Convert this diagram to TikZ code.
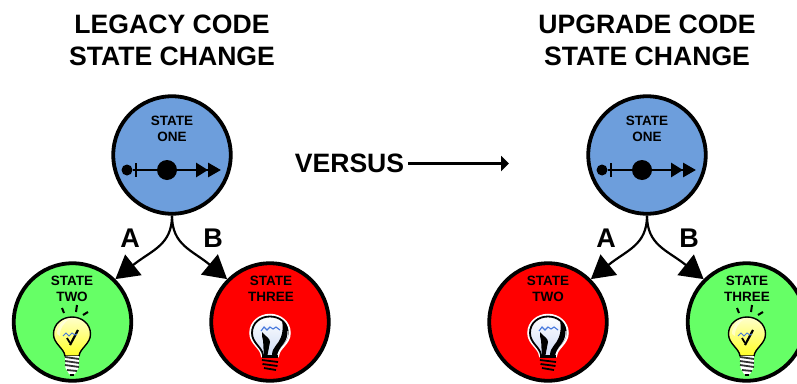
\documentclass[tikz,border=0pt]{standalone}
\usepackage{fontspec}
\setmainfont{Liberation Sans}
\usetikzlibrary{arrows.meta}
\definecolor{stateblue}{RGB}{109,158,220}
\definecolor{stategreen}{RGB}{102,255,102}
\definecolor{statered}{RGB}{255,0,0}
\definecolor{glassblue}{RGB}{70,120,220}
\tikzset{
    statecircle/.style={circle,draw=black,line width=3.8pt,minimum size=117.5pt,inner sep=0pt},
    statelabel/.style={align=center,font=\bfseries\fontsize{13.5}{16}\selectfont,inner sep=0pt},
    titlelabel/.style={align=center,font=\bfseries\fontsize{26.6}{31.5}\selectfont,inner sep=0pt},
    choicelabel/.style={font=\bfseries\fontsize{27}{30}\selectfont,inner sep=0pt},
    choicearrow/.style={line width=2.2pt,-{Triangle[length=23pt,width=26pt]}},
    leverline/.style={line width=2.8pt,-{Triangle[length=12pt,width=14pt]Triangle[length=13pt,width=14pt,sep=0pt]}},
    leverdot/.style={circle,fill=black,inner sep=0pt},
}
% light bulb, origin in the middle of the glass
\newcommand{\bulbglass}{(-7,21) .. controls (-8,13) and (-18.5,9) .. (-18.5,-1)
    .. controls (-18.5,-11) and (-10,-18) .. (0,-18)
    .. controls (10,-18) and (18.5,-11) .. (18.5,-1)
    .. controls (18.5,9) and (8,13) .. (7,21) -- cycle}
\newcommand{\litbulb}[2]{
    \begin{scope}[shift={(#1,#2)}]
        \draw[black,line width=2pt] (-10,-27) -- (-8,-22) (5,-30) -- (4,-23) (16,-23) -- (11,-20);
        \draw[black,line width=1.4pt,top color=yellow!20,bottom color=yellow!85] \bulbglass;
        \fill[white,opacity=0.5] (-15,-1) .. controls (-15,-9) and (-9,-15) .. (-3,-16) .. controls (-9,-11) and (-12,-7) .. (-12,1) -- cycle;
        \fill[white] (-7,21) -- (7,21) -- (6.5,33) -- (3,39) -- (-3,39) -- (-6.5,33) -- cycle;
        \draw[black!80,line width=1.8pt] (-7,22) -- (7,24) (-7,26) -- (7,28) (-7,30) -- (7,32) (-5,35) -- (5,36);
        \fill[black] (-2,39) rectangle (2,40.5);
        \draw[black,line width=1.8pt] (-5,3) -- (-2,8);
        \draw[black,line width=2.2pt] (6,-5) -- (-2,10);
        \draw[glassblue,line width=0.9pt] (-9,1) -- (-6,-2) -- (-3,1) -- (0,-2) -- (3,0) -- (5,-1);
    \end{scope}
}
\newcommand{\darkbulb}[2]{
    \begin{scope}[shift={(#1,#2)}]
        \draw[white,line width=4.5pt,fill=white] \bulbglass;
        \fill[top color=white,bottom color=glassblue!25] \bulbglass;
        \draw[black,line width=1.8pt] (-7,21) .. controls (-8,13) and (-18,9) .. (-18,-1)
            .. controls (-18,-11) and (-10,-17.5) .. (0,-17.5) .. controls (9,-17.5) and (17,-12) .. (17.5,-3);
        \fill[black] (12,-14) .. controls (18.5,-8) and (19,2) .. (14,9) .. controls (10,14) and (8,17) .. (7,21)
            -- (2,21) .. controls (2,13) and (9,10) .. (11,3) .. controls (13,-2) and (13,-8) .. (12,-14) -- cycle;
        \fill[black] (-2.5,21) -- (0,8) .. controls (0,4) and (-4,3) .. (-8,-2) -- (-8,2) .. controls (-6,8) and (-7,14) .. (-6,21) -- cycle;
        \fill[black] (-8,21) rectangle (8,24);
        \draw[black,line width=1.8pt] (-8,26) -- (8,28) (-7.5,30) -- (7.5,32) (-6,34) -- (6,36);
        \draw[glassblue,line width=1.1pt] (-9,-3) -- (-6,-7) -- (-3,-4) -- (0,-7) -- (3,-5) -- (6,-7) -- (10,-4);
    \end{scope}
}
\begin{document}
\begin{tikzpicture}[x=1pt,y=-1pt]
    \useasboundingbox (0,0) rectangle (797,383);

    \node[titlelabel] (legacytitle) at (172,40.5) {LEGACY CODE\\STATE CHANGE};
    \node[titlelabel] (upgradetitle) at (647,40.5) {UPGRADE CODE\\STATE CHANGE};

    % left side
    \node[statecircle,fill=stateblue] (legacyone) at (172,155) {};
    \node[statecircle,fill=stategreen] (legacytwo) at (72.5,322) {};
    \node[statecircle,fill=statered] (legacythree) at (270,322) {};
    \node[statelabel] (legacyonetext) at (172,129) {STATE\\ONE};
    \node[statelabel] (legacytwotext) at (72,289) {STATE\\TWO};
    \node[statelabel] (legacythreetext) at (271,289) {STATE\\THREE};
    \litbulb{72}{335}
    \darkbulb{270}{334}
    \node[leverdot,minimum size=11pt] (legacystart) at (127,170) {};
    \node[leverdot,minimum size=20pt] (legacypivot) at (167,170) {};
    \coordinate (legacyend) at (221,170);
    \coordinate (legacytickup) at (136,163);
    \coordinate (legacytickdown) at (136,177);
    \draw[leverline] (legacystart) -- (legacyend);
    \draw[line width=2.8pt] (legacytickup) -- (legacytickdown);
    \draw[choicearrow] (legacyone.south) .. controls (172,245) and (152,250) .. (legacytwo.45);
    \draw[choicearrow] (legacyone.south) .. controls (172,245) and (192,250) .. (legacythree.135);
    \node[choicelabel] (legacya) at (130,238) {A};
    \node[choicelabel] (legacyb) at (213,238) {B};

    % versus
    \node[titlelabel] (versus) at (349.5,163.5) {VERSUS};
    \coordinate (versusend) at (509,163.5);
    \draw[line width=3.4pt,shorten <=4pt,-{Triangle[length=8pt,width=15pt]}] (versus.east) -- (versusend);

    % right side
    \node[statecircle,fill=stateblue] (upgradeone) at (647,155) {};
    \node[statecircle,fill=statered] (upgradetwo) at (548,322) {};
    \node[statecircle,fill=stategreen] (upgradethree) at (746.5,322) {};
    \node[statelabel] (upgradeonetext) at (647,129) {STATE\\ONE};
    \node[statelabel] (upgradetwotext) at (548,289) {STATE\\TWO};
    \node[statelabel] (upgradethreetext) at (747,289) {STATE\\THREE};
    \darkbulb{548}{334}
    \litbulb{747}{335}
    \node[leverdot,minimum size=11pt] (upgradestart) at (602,170) {};
    \node[leverdot,minimum size=20pt] (upgradepivot) at (642,170) {};
    \coordinate (upgradeend) at (696,170);
    \coordinate (upgradetickup) at (611,163);
    \coordinate (upgradetickdown) at (611,177);
    \draw[leverline] (upgradestart) -- (upgradeend);
    \draw[line width=2.8pt] (upgradetickup) -- (upgradetickdown);
    \draw[choicearrow] (upgradeone.south) .. controls (647,245) and (627,250) .. (upgradetwo.45);
    \draw[choicearrow] (upgradeone.south) .. controls (647,245) and (667,250) .. (upgradethree.135);
    \node[choicelabel] (upgradea) at (606,238) {A};
    \node[choicelabel] (upgradeb) at (689,238) {B};
\end{tikzpicture}
\end{document}
